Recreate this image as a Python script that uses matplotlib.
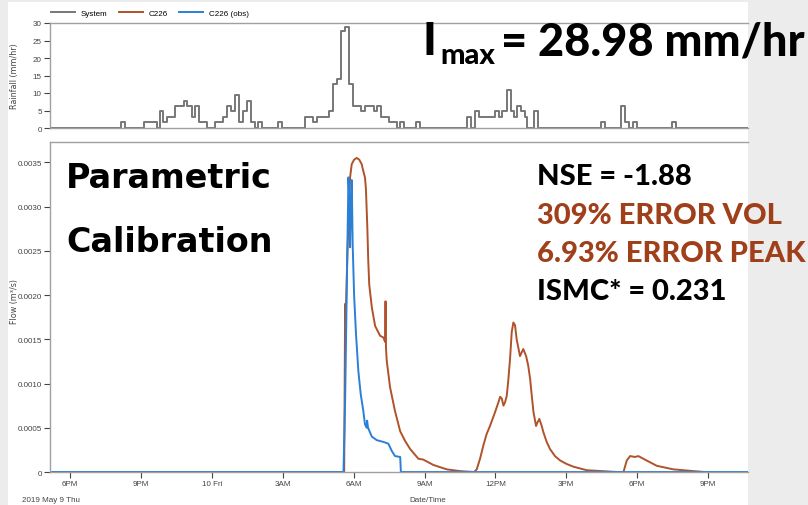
import matplotlib
matplotlib.use("Agg")
import matplotlib.pyplot as plt
from matplotlib.lines import Line2D
from matplotlib.patches import Rectangle

# time in hours from 2019-05-09 00:00
rain_t = [17.15, 20.15, 20.31, 21.13, 21.67, 21.81, 21.95, 22.12, 22.46, 22.82, 22.96, 23.16, 23.30,
          23.47, 23.81, 24.14, 24.46, 24.63, 24.80, 24.97, 25.14, 25.31, 25.48, 25.65, 25.82, 25.96,
          26.13, 26.80, 26.97, 27.96, 28.30, 28.47, 28.97, 29.14, 29.31, 29.46, 29.63, 29.79, 29.99,
          30.30, 30.50, 30.86, 31.00, 31.17, 31.49, 31.83, 31.97, 32.13, 32.64, 32.81, 34.79, 34.96,
          35.13, 35.32, 35.99, 36.14, 36.28, 36.48, 36.65, 36.79, 36.93, 37.10, 37.24, 37.35, 37.64,
          37.81, 40.48, 40.65, 41.30, 41.47, 41.64, 41.81, 41.98, 43.48, 43.65, 46.69]
rain_v = [0, 1.6, 0, 1.6, 0, 4.8, 1.6, 3.2, 6.4, 7.8, 6.4, 3.2, 6.4, 1.6, 0, 1.6, 3.2, 6.4, 4.8, 9.4,
          1.6, 4.8, 7.8, 1.6, 0, 1.6, 0, 1.6, 0, 3.2, 1.6, 3.2, 4.8, 12.6, 14.0, 27.6, 28.98, 12.6,
          6.4, 4.8, 6.4, 4.8, 6.4, 3.2, 1.6, 0, 1.6, 0, 1.6, 0, 3.2, 0, 4.8, 3.2, 4.8, 3.2, 4.8, 10.8,
          4.8, 3.2, 6.4, 4.8, 3.2, 0, 4.8, 0, 1.6, 0, 6.4, 1.6, 0, 1.6, 0, 1.6, 0, 0]

obs_t = [17.15, 29.57, 29.64, 29.70, 29.78, 29.83, 29.85, 29.89, 29.92, 29.96, 30.02, 30.10, 30.20,
         30.30, 30.41, 30.48, 30.55, 30.57, 30.61, 30.77, 30.98, 31.26, 31.47, 31.61, 31.75, 31.97,
         32.00, 46.69]
obs_q = [0, 0, 0.0008, 0.0019, 0.00333, 0.0030, 0.00254, 0.0031, 0.0033, 0.00257, 0.0020, 0.00156,
         0.00114, 0.00088, 0.00069, 0.00054, 0.0005, 0.00058, 0.0005, 0.0004, 0.00036, 0.00034,
         0.00032, 0.00024, 0.00018, 0.00017, 0, 0]

sim_t = [17.15, 29.60, 29.64, 29.66, 29.74, 29.85, 29.92, 30.02, 30.13, 30.24, 30.34, 30.41, 30.48,
         30.52, 30.58, 30.62, 30.66, 30.77, 30.91, 31.12, 31.26, 31.33, 31.35, 31.37, 31.40, 31.54,
         31.75, 31.97, 32.18, 32.39, 32.74, 32.95, 33.37, 33.94, 34.50, 35.10, 35.21, 35.35, 35.49,
         35.63, 35.77, 35.99, 36.13, 36.20, 36.27, 36.34, 36.41, 36.48, 36.55, 36.62, 36.69, 36.76,
         36.83, 36.90, 37.04, 37.11, 37.18, 37.30, 37.39, 37.47, 37.54, 37.61, 37.72, 37.78, 37.86,
         37.96, 38.03, 38.17, 38.31, 38.52, 38.74, 39.02, 39.30, 39.87, 41.14, 41.42, 41.56, 41.70,
         41.91, 42.05, 42.40, 42.83, 43.53, 44.38, 44.87]
sim_q = [0, 0, 0.0019, 0.0017, 0.0025, 0.00333, 0.00348, 0.00353, 0.00355, 0.00353, 0.00348,
         0.0034, 0.00333, 0.0032, 0.00276, 0.00238, 0.00212, 0.00186, 0.00165, 0.00154, 0.00152,
         0.00147, 0.00193, 0.0014, 0.00126, 0.00096, 0.00069, 0.00046, 0.00035, 0.00026, 0.00015,
         0.00014, 0.00008, 0.00003, 0.00001, 0, 0.00003, 0.00015, 0.0003, 0.00043, 0.00052, 0.00068,
         0.00079, 0.00085, 0.00083, 0.00075, 0.00079, 0.00086, 0.00105, 0.00128, 0.00158, 0.00169,
         0.00166, 0.0015, 0.00131, 0.00135, 0.00139, 0.00131, 0.0012, 0.00105, 0.00086, 0.00068,
         0.00052, 0.00056, 0.0006, 0.00052, 0.00045, 0.00034, 0.00026, 0.00018, 0.00013, 0.00009,
         0.00006, 0.00002, 0, 0, 0.00013, 0.00018, 0.00017, 0.00018, 0.00013, 0.00007, 0.00003,
         0.00001, 0]

x_ticks = [18, 21, 24, 27, 30, 33, 36, 39, 42, 45]
x_labels = ['6PM', '9PM', '10 Fri', '3AM', '6AM', '9AM', '12PM', '3PM', '6PM', '9PM']
rain_ticks = [0, 5, 10, 15, 20, 25, 30]
flow_ticks = [0, 0.0005, 0.0010, 0.0015, 0.0020, 0.0025, 0.0030, 0.0035]

GRAY = '#777777'
BROWN = '#b0522a'
BLUE = '#2a80d8'
SPINE = '#a0a0a0'
TXT = '#444444'
small = ['Liberation Sans', 'DejaVu Sans']
big = ['Lato', 'DejaVu Sans']
wide = ['DejaVu Sans']
FS = 5.8

fig = plt.figure(figsize=(8.08, 5.06), dpi=100)
fig.patch.set_facecolor('#ececec')
fig.patches.append(Rectangle((8 / 808, 0), 740 / 808, 1 - 3 / 506, transform=fig.transFigure,
                             facecolor='white', edgecolor='none', zorder=-10))

ax1 = fig.add_axes([50 / 808, 1 - 129 / 506, 698 / 808, 105 / 506])
ax2 = fig.add_axes([50 / 808, 1 - 473 / 506, 698 / 808, 330 / 506])

ax1.step(rain_t, rain_v, where='post', color=GRAY, lw=1.4)
ax2.plot(sim_t, sim_q, color=BROWN, lw=1.4)
ax2.plot(obs_t, obs_q, color=BLUE, lw=1.4)

for ax in (ax1, ax2):
    ax.set_facecolor('none')
    ax.set_xlim(17.15, 46.69)
    ax.spines['right'].set_visible(False)
    for s in ('left', 'top', 'bottom'):
        ax.spines[s].set_color(SPINE)
        ax.spines[s].set_linewidth(1)
    ax.tick_params(colors=TXT, labelsize=FS, length=4, width=0.8, pad=2)
    ax.set_xticks(x_ticks)

ax1.set_ylim(0, 30)
ax1.set_yticks(rain_ticks)
ax1.set_yticklabels([str(v) for v in rain_ticks], family=small)
ax1.tick_params(axis='x', length=0, labelbottom=False)
ax1.set_ylabel('Rainfall (mm/hr)', fontsize=FS, color=TXT)
ax1.yaxis.set_label_coords(-31 / 698, 0.5)

ax2.set_ylim(0, 0.00373)
ax2.set_yticks(flow_ticks)
ax2.set_yticklabels(['0' if v == 0 else f'{v:.4f}' for v in flow_ticks], family=small)
ax2.set_xticklabels(x_labels, family=small)
ax2.set_ylabel('Flow (m³/s)', fontsize=FS, color=TXT)
ax2.yaxis.set_label_coords(-31 / 698, 0.52)

fig.text(22 / 808, 1 - 501 / 506, '2019 May 9 Thu', fontsize=FS, color=TXT, family=small, va='center')
fig.text(428 / 808, 1 - 501 / 506, 'Date/Time', fontsize=FS, color=TXT, family=small,
         va='center', ha='center')

handles = [Line2D([], [], color=GRAY, lw=1.4), Line2D([], [], color=BROWN, lw=1.4),
           Line2D([], [], color=BLUE, lw=1.4)]
fig.legend(handles, ['System', 'C226', 'C226 (obs)'], loc='center left',
           bbox_to_anchor=(51 / 808, 1 - 14 / 506), ncol=3, frameon=False,
           borderpad=0, borderaxespad=0, handlelength=3.0, columnspacing=1.4,
           handletextpad=0.7, prop={'family': small, 'size': FS})

# annotations
fig.text(423 / 808, 1 - 55 / 506, 'I', fontsize=33, fontweight='black', family=big, color='black')
fig.text(440 / 808, 1 - 64 / 506, 'max', fontsize=21, fontweight='black', family=big, color='black')
fig.text(805 / 808, 1 - 55 / 506, '= 28.98 mm/hr', fontsize=32.5, fontweight='black', family=big,
         color='black', ha='right')

fig.text(66 / 808, 1 - 188 / 506, 'Parametric', fontsize=24, fontweight='bold', family=wide)
fig.text(66 / 808, 1 - 252 / 506, 'Calibration', fontsize=24, fontweight='bold', family=wide)

stats = [('NSE = -1.88', 'black'), ('309% ERROR VOL', '#a0401a'),
         ('6.93% ERROR PEAK', '#a0401a'), ('ISMC* = 0.231', 'black')]
for i, (txt, col) in enumerate(stats):
    fig.text(537 / 808, 1 - (185 + 38.5 * i) / 506, txt, fontsize=21, fontweight='black',
             family=big, color=col)

fig.savefig('out.png', dpi=100, facecolor=fig.get_facecolor())
